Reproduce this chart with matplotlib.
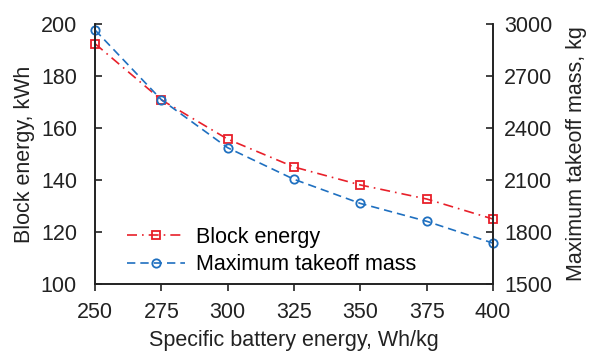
import matplotlib.pyplot as plt

plt.rcParams['font.family'] = ['Liberation Sans', 'DejaVu Sans']
plt.rcParams['font.size'] = 15.5

battery = [250, 275, 300, 325, 350, 375, 400]
block_energy = [192.4, 170.8, 155.7, 145.0, 138.1, 132.7, 125.0]
mtow = [2965, 2563, 2286, 2104, 1965, 1862, 1736]

red = '#e8202a'
blue = '#1f70c0'

fig = plt.figure(figsize=(5.94, 3.52), dpi=100)
ax = fig.add_axes([0.16, 0.193, 0.67, 0.739])
ax2 = ax.twinx()

l1, = ax.plot(battery, block_energy, color=red, linestyle=(0, (6, 3, 1, 3)), linewidth=1.2,
              marker='s', markersize=6, markerfacecolor='none', markeredgewidth=1.3,
              label='Block energy', clip_on=False)
l2, = ax2.plot(battery, mtow, color=blue, linestyle=(0, (5, 3)), linewidth=1.2,
               marker='o', markersize=6, markerfacecolor='none', markeredgewidth=1.3,
               label='Maximum takeoff mass', clip_on=False)

ax.set_xlim(250, 400)
ax.set_ylim(100, 200)
ax2.set_ylim(1500, 3000)
ax.set_xticks(battery)
ax.set_yticks([100, 120, 140, 160, 180, 200])
ax2.set_yticks([1500, 1800, 2100, 2400, 2700, 3000])

for a in (ax, ax2):
    a.spines['top'].set_visible(False)
    for s in a.spines.values():
        s.set_linewidth(1.2)
        s.set_color('#222222')
ax.tick_params(axis='y', direction='in', length=5, width=1.2, colors='#222222', labelcolor='#222222', pad=13)
ax2.tick_params(axis='y', direction='in', length=5, width=1.2, colors='#222222', labelcolor='#222222', pad=8)
ax.tick_params(axis='x', direction='out', length=5, width=1.2, colors='#222222', labelcolor='#222222', pad=8)

ax.set_xlabel('Specific battery energy, Wh/kg', color='#222222', labelpad=5)
ax.set_ylabel('Block energy, kWh', color='#222222', labelpad=4)
ax2.set_ylabel('Maximum takeoff mass, kg', color='#222222', labelpad=10)

ax.legend(handles=[l1, l2], loc='lower left', bbox_to_anchor=(0.058, 0.0), frameon=False,
          handlelength=2.7, handletextpad=0.5, labelspacing=0.3, borderaxespad=0)

fig.savefig('out.png', dpi=100)
